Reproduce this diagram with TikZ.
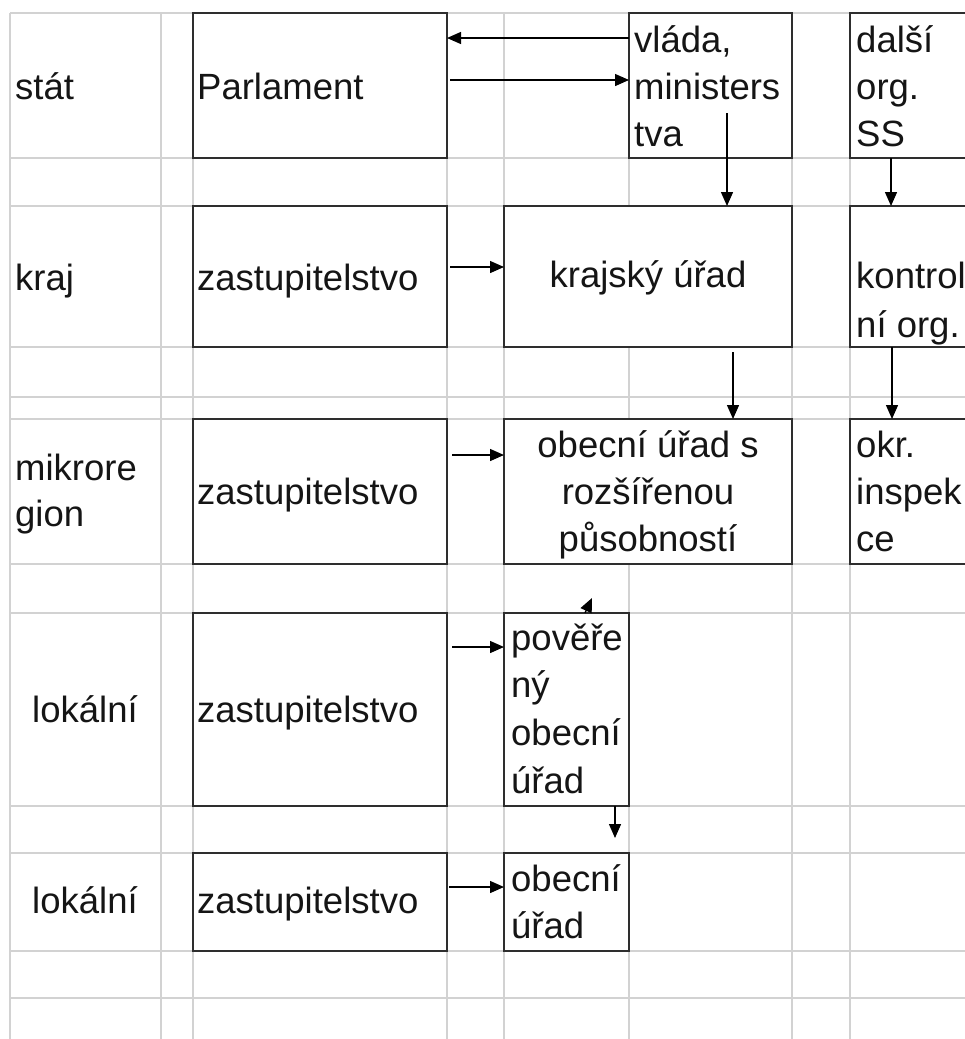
\documentclass[tikz,border=0pt]{standalone}
\usepackage{fontspec}
\setmainfont{Liberation Sans}
\usetikzlibrary{arrows.meta}
\definecolor{gridgray}{HTML}{D2D2D2}
\definecolor{boxgray}{HTML}{2E2E2E}
\definecolor{inkc}{HTML}{151515}
\begin{document}
\begin{tikzpicture}[x=1pt,y=-1pt,
  gridline/.style={draw=gridgray, line width=1.6pt},
  box/.style={draw=boxgray, line width=1.6pt, fill=white, rectangle, inner sep=0pt, outer sep=0pt, anchor=north west},
  txt/.style={anchor=base west, inner sep=0pt, text=inkc, font=\fontsize{36.5}{47}\selectfont},
  ctxt/.style={txt, anchor=base},
  arr/.style={draw=black, line width=1.4pt, -{Triangle[length=14pt,width=12pt]}}
]
\useasboundingbox (0,0) rectangle (965,1039);
\clip (0,0) rectangle (965,1039);
\fill[white] (0,0) rectangle (965,1039);

% spreadsheet grid
\foreach \gx in {10,161,193,447,504,629,792,850}
  \draw[gridline] (\gx,13) -- (\gx,1039);
\foreach \gy in {13,158,206,347,397,419,564,613,806,853,951,998}
  \draw[gridline] (10,\gy) -- (965,\gy);

% boxes
\node[box, minimum width=254pt, minimum height=145pt] (parl)  at (193,13) {};
\node[box, minimum width=163pt, minimum height=145pt] (vlada) at (629,13) {};
\node[box, minimum width=200pt, minimum height=145pt] (dalsi) at (850,13) {};
\node[box, minimum width=254pt, minimum height=141pt] (zk)    at (193,206) {};
\node[box, minimum width=288pt, minimum height=141pt] (ku)    at (504,206) {};
\node[box, minimum width=200pt, minimum height=141pt] (kont)  at (850,206) {};
\node[box, minimum width=254pt, minimum height=145pt] (zm)    at (193,419) {};
\node[box, minimum width=288pt, minimum height=145pt] (orp)   at (504,419) {};
\node[box, minimum width=200pt, minimum height=145pt] (okr)   at (850,419) {};
\node[box, minimum width=254pt, minimum height=193pt] (zl)    at (193,613) {};
\node[box, minimum width=125pt, minimum height=193pt] (pov)   at (504,613) {};
\node[box, minimum width=254pt, minimum height=98pt]  (zo)    at (193,853) {};
\node[box, minimum width=125pt, minimum height=98pt]  (ou)    at (504,853) {};

% row labels
\node[txt] (lstat) at (15,99) {stát};
\node[txt] (lkraj) at (15,290) {kraj};
\node[txt] (lmik1) at (15,480) {mikrore};
\node[txt] (lmik2) at (15,526) {gion};
\node[ctxt] (llok1) at (85,722) {lokální};
\node[ctxt] (llok2) at (85,913) {lokální};

% box texts
\node[txt] (tparl) at (197,99) {Parlament};
\node[txt] (tvl1) at (634,52) {vláda,};
\node[txt] (tvl2) at (634,99) {ministers};
\node[txt] (tvl3) at (634,146) {tva};
\node[txt] (tda1) at (856,52) {další};
\node[txt] (tda2) at (856,99) {org.};
\node[txt] (tda3) at (856,146) {SS};
\node[txt] (tzk) at (197,290) {zastupitelstvo};
\node[ctxt] (tku) at (648,287) {krajský úřad};
\node[txt] (tko1) at (856,288) {kontrol};
\node[txt] (tko2) at (856,337) {ní org.};
\node[txt] (tzm) at (197,504) {zastupitelstvo};
\node[ctxt] (tor1) at (648,457) {obecní úřad s};
\node[ctxt] (tor2) at (648,504) {rozšířenou};
\node[ctxt] (tor3) at (648,551) {působností};
\node[txt] (tok1) at (856,457) {okr.};
\node[txt] (tok2) at (856,504) {inspek};
\node[txt] (tok3) at (856,551) {ce};
\node[txt] (tzl) at (197,722) {zastupitelstvo};
\node[txt] (tpo1) at (511,650) {pověře};
\node[txt] (tpo2) at (511,697) {ný};
\node[txt] (tpo3) at (511,745) {obecní};
\node[txt] (tpo4) at (511,793) {úřad};
\node[txt] (tzo) at (197,913) {zastupitelstvo};
\node[txt] (tou1) at (511,891) {obecní};
\node[txt] (tou2) at (511,938) {úřad};

% free ends
\coordinate (vlstart) at (727,113);
\coordinate (povtip) at (592,598);
\coordinate (ouend) at (615,838);

% connectors
\draw[arr] (vlada.west |- 0,38) -- (parl.east |- 0,38);
\draw[arr, shorten <=3pt] (parl.east |- 0,80) -- (vlada.west |- 0,80);
\draw[arr] (vlstart) -- (ku.north -| vlstart);
\draw[arr] (dalsi.south -| 891,0) -- (kont.north -| 891,0);
\draw[arr, shorten <=3pt] (zk.east |- 0,267) -- (ku.west |- 0,267);
\draw[arr, shorten <=5pt] (ku.south -| 733,0) -- (orp.north -| 733,0);
\draw[arr] (kont.south -| 892,0) -- (okr.north -| 892,0);
\draw[arr, shorten <=5pt] (zm.east |- 0,455) -- (orp.west |- 0,455);
\draw[arr] (pov.north -| 585,0) -- (povtip);
\draw[arr, shorten <=5pt] (zl.east |- 0,647) -- (pov.west |- 0,647);
\draw[arr] (pov.south -| ouend) -- (ouend);
\draw[arr, shorten <=2pt] (zo.east |- 0,887) -- (ou.west |- 0,887);
\end{tikzpicture}
\end{document}
